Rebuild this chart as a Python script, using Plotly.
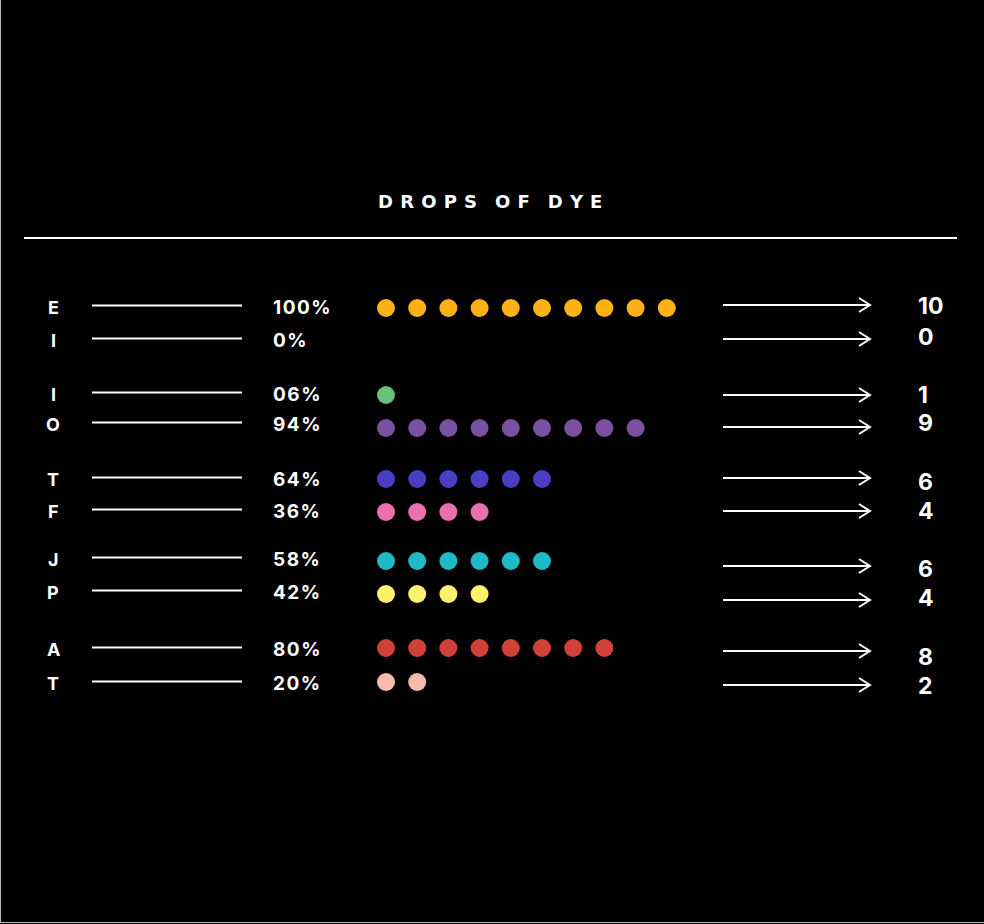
import plotly.graph_objects as go

# ---- data ----
letters = ["E", "I", "I", "O", "T", "F", "J", "P", "A", "T"]
percents = ["100%", "0%", "06%", "94%", "64%", "36%", "58%", "42%", "80%", "20%"]
drops = [10, 0, 1, 9, 6, 4, 6, 4, 8, 2]
colors = ["#FFB115", "#FFB115", "#66C17A", "#7A50A0", "#4A3FC4", "#EC70AA",
          "#1EBAC8", "#FFF06E", "#D1413A", "#F9BAAE"]
title = "DROPS OF DYE"

# ---- layout constants (pixel space) ----
W, H = 984, 924
row_y = [307, 340, 394, 424, 479, 511, 559, 592, 649, 683]
dot_y = [308, 340, 395, 428, 479, 512, 561, 594, 648, 682]
arrow_y = [305, 339, 395, 427, 478, 511, 566, 600, 651, 685]
num_y = [306, 337, 395, 423, 482, 511, 569, 598, 657, 686]
dot_x0, dot_dx = 386, 31.2

fig = go.Figure()
annotations = []
shapes = []

FONT = "Inter"

for i in range(len(letters)):
    y = row_y[i]
    annotations.append(dict(x=53, y=y, text=f"<b>{letters[i]}</b>", showarrow=False,
                            xanchor="center", yanchor="middle",
                            font=dict(family=FONT, size=18, color="white")))
    shapes.append(dict(type="line", x0=92, x1=242, y0=y - 1.5, y1=y - 1.5,
                       line=dict(color="white", width=2)))
    pct = "\u200a".join(list(percents[i]))
    annotations.append(dict(x=271, y=y, text=f"<b>{pct}</b>", showarrow=False,
                            xanchor="left", yanchor="middle",
                            font=dict(family=FONT, size=19, color="white")))
    # arrow
    ay = arrow_y[i]
    shapes.append(dict(type="line", x0=723, x1=870, y0=ay, y1=ay,
                       line=dict(color="white", width=2)))
    shapes.append(dict(type="path",
                       path=f"M 859 {ay-7} L 870 {ay} L 859 {ay+7}",
                       line=dict(color="white", width=2)))
    annotations.append(dict(x=916, y=num_y[i], text=f"<b>{drops[i]}</b>", showarrow=False,
                            xanchor="left", yanchor="middle",
                            font=dict(family=FONT, size=23, color="white")))
    # dots
    n = drops[i]
    if n > 0:
        fig.add_trace(go.Scatter(
            x=[dot_x0 + k * dot_dx for k in range(n)],
            y=[dot_y[i]] * n,
            mode="markers",
            marker=dict(size=18, color=colors[i], line=dict(width=0)),
            hoverinfo="skip", showlegend=False))

# title
words = title.split(" ")
spaced = ("\u2009" * 5).join(("\u2009" * 2).join(list(w)) for w in words)
annotations.append(dict(x=490, y=201, text=f"<b>{spaced}</b>", showarrow=False,
                        xanchor="center", yanchor="middle",
                        font=dict(family="DejaVu Sans", size=18, color="white")))
shapes.append(dict(type="line", x0=24, x1=957, y0=238, y1=238,
                   line=dict(color="white", width=2)))
# frame edges
shapes.append(dict(type="line", x0=0.5, x1=0.5, y0=0, y1=922,
                   line=dict(color="#bbbbbb", width=1)))
shapes.append(dict(type="line", x0=0, x1=984, y0=922.5, y1=922.5,
                   line=dict(color="#bbbbbb", width=1)))

fig.update_layout(
    width=W, height=H,
    margin=dict(l=0, r=0, t=0, b=0),
    paper_bgcolor="black", plot_bgcolor="black",
    xaxis=dict(range=[0, W], visible=False, fixedrange=True),
    yaxis=dict(range=[H, 0], visible=False, fixedrange=True),
    annotations=annotations, shapes=shapes,
)

fig.write_html("out.html")
